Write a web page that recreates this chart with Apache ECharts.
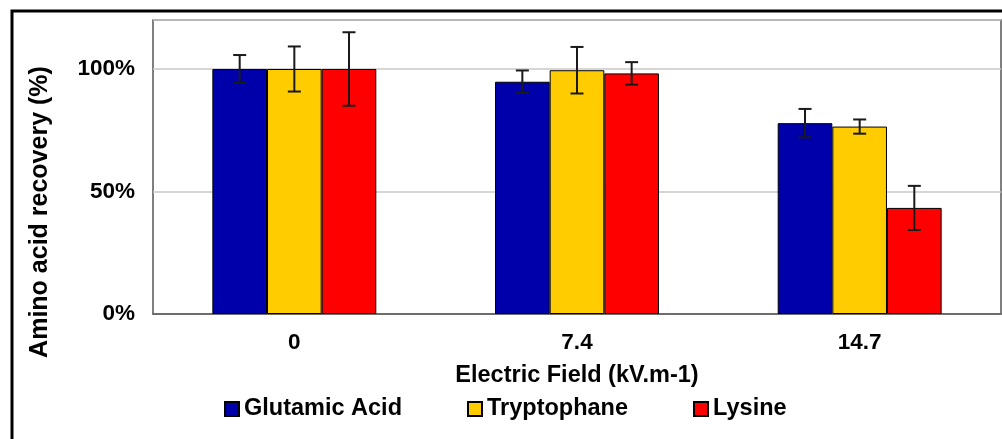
<!DOCTYPE html>
<html>
<head>
<meta charset="utf-8">
<script src="https://cdn.jsdelivr.net/npm/echarts@6/dist/echarts.min.js"></script>
<style>
html,body{margin:0;padding:0;background:#fff;}
#chart{width:1002px;height:439px;}
</style>
</head>
<body>
<div id="chart"></div>
<script>
var categories = ['0', '7.4', '14.7'];
var seriesNames = ['Glutamic Acid', 'Tryptophane', 'Lysine'];
var glutamic = [100, 94.8, 77.9];
var tryptophane = [100, 99.5, 76.5];
var lysine = [100, 98.2, 43.3];
var glutamicErr = [5.7, 4.6, 5.8];
var tryptophaneErr = [9.2, 9.5, 2.9];
var lysineErr = [15, 4.6, 9];
var yTicks = [0, 50, 100];

var values = [glutamic, tryptophane, lysine];
var errors = [glutamicErr, tryptophaneErr, lysineErr];
var colors = ['#0000AA', '#FFCC00', '#FF0000'];
var FONT = '"Liberation Sans", Arial, sans-serif';
var GAP = 0.42;

var chart = echarts.init(document.getElementById('chart'));
var series = [];
values.forEach(function (vals, i) {
  series.push({
    name: seriesNames[i],
    type: 'bar',
    data: vals,
    barGap: '0%',
    barCategoryGap: (GAP * 100) + '%',
    itemStyle: { color: colors[i], borderColor: '#000', borderWidth: 1 },
    emphasis: { disabled: true },
    z: 2
  });
});
values.forEach(function (vals, i) {
  var data = vals.map(function (v, k) {
    return [k, v - errors[i][k], v + errors[i][k]];
  });
  series.push({
    type: 'custom',
    name: 'err' + i,
    data: data,
    encode: { x: 0, y: [1, 2] },
    z: 5,
    silent: true,
    renderItem: function (params, api) {
      var band = api.size([1, 0])[0];
      var bw = band * (1 - GAP) / 3;
      var off = (i - 1) * bw;
      var lo = api.coord([api.value(0), api.value(1)]);
      var hi = api.coord([api.value(0), api.value(2)]);
      var x = lo[0] + off;
      var cap = 6.5;
      var style = { stroke: '#1a1a1a', lineWidth: 2 };
      return {
        type: 'group',
        children: [
          { type: 'line', shape: { x1: x, y1: lo[1], x2: x, y2: hi[1] }, style: style },
          { type: 'line', shape: { x1: x - cap, y1: lo[1], x2: x + cap, y2: lo[1] }, style: style },
          { type: 'line', shape: { x1: x - cap, y1: hi[1], x2: x + cap, y2: hi[1] }, style: style }
        ]
      };
    }
  });
});

chart.setOption({
  animation: false,
  backgroundColor: '#fff',
  grid: {
    left: 153, top: 20, right: 1, bottom: 125,
    show: true, borderColor: '#555', borderWidth: 1.5, backgroundColor: 'transparent'
  },
  legend: {
    data: seriesNames,
    left: 219, top: 392,
    icon: 'rect', itemWidth: 14, itemHeight: 14, itemGap: 65,
    textStyle: { fontFamily: FONT, fontWeight: 'bold', fontSize: 23.5, color: '#000' }
  },
  xAxis: {
    type: 'category',
    data: categories,
    name: 'Electric Field (kV.m-1)',
    nameLocation: 'middle',
    nameGap: 50,
    nameTextStyle: { fontFamily: FONT, fontWeight: 'bold', fontSize: 23.5, color: '#000' },
    axisTick: { show: false },
    axisLine: { lineStyle: { color: '#555', width: 1.5 } },
    axisLabel: { margin: 17, fontFamily: FONT, fontWeight: 'bold', fontSize: 22.5, color: '#000' }
  },
  yAxis: {
    type: 'value',
    min: 0, max: 120, interval: 50,
    axisLine: { show: false },
    axisTick: { show: false },
    splitLine: { lineStyle: { color: '#c8c8c8', width: 1.5 } },
    axisLabel: {
      margin: 18, fontFamily: FONT, fontWeight: 'bold', fontSize: 22.5, color: '#000',
      formatter: function (v) { return yTicks.indexOf(v) >= 0 ? v + '%' : ''; }
    }
  },
  graphic: [
    {
      type: 'rect', silent: true,
      shape: { x: 12, y: 11, width: 1010, height: 460 },
      style: { fill: 'none', stroke: '#000', lineWidth: 3 }, z: 100
    },
    {
      type: 'text', silent: true,
      x: 40, y: 212, rotation: Math.PI / 2,
      style: {
        text: 'Amino acid recovery (%)',
        font: 'bold 25px ' + FONT, fill: '#000',
        align: 'center', verticalAlign: 'middle'
      }
    }
  ],
  series: series
});
</script>
</body>
</html>
